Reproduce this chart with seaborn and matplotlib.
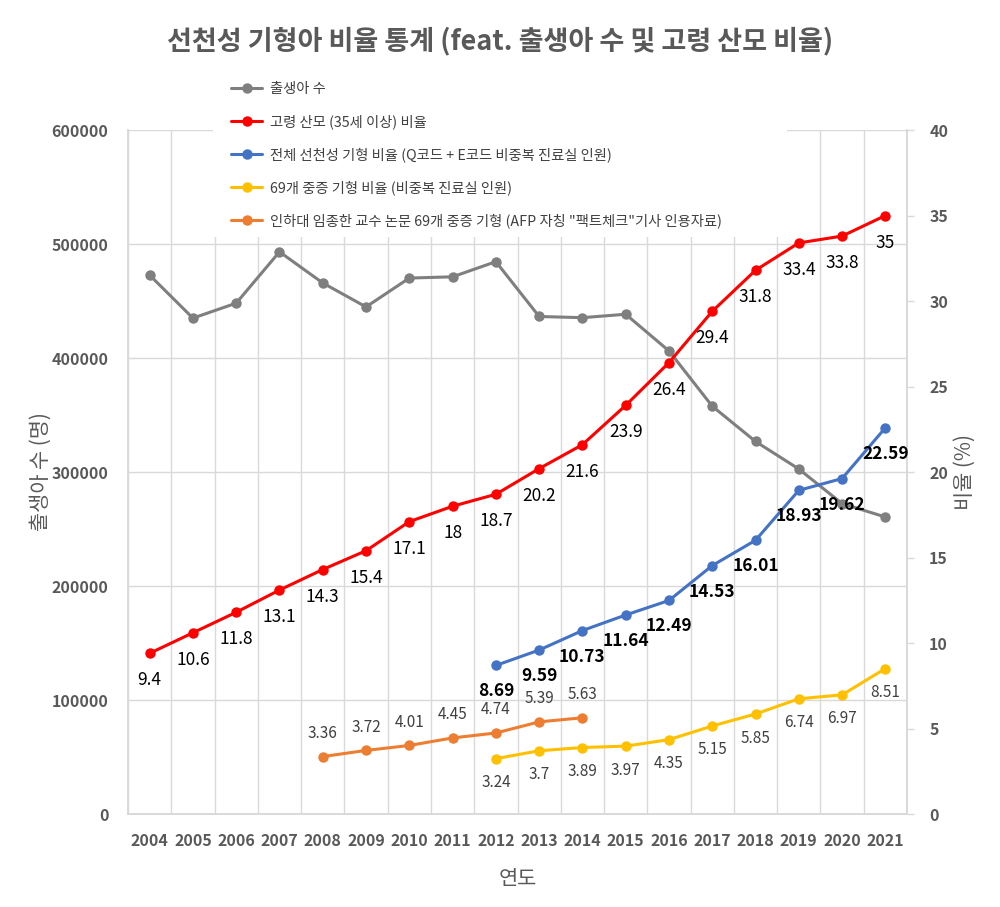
import numpy as np
import pandas as pd
import matplotlib
matplotlib.use("Agg")
import matplotlib.pyplot as plt
import seaborn as sns
from matplotlib.patches import Rectangle

# data
years = list(range(2004, 2022))
births = [472761, 435031, 448153, 493189, 465892, 444849, 470171, 471265, 484550,
          436455, 435435, 438420, 406243, 357771, 326822, 302676, 272337, 260562]
old_mother = [9.4, 10.6, 11.8, 13.1, 14.3, 15.4, 17.1, 18, 18.7, 20.2, 21.6, 23.9,
              26.4, 29.4, 31.8, 33.4, 33.8, 35]
total_defect = [None] * 8 + [8.69, 9.59, 10.73, 11.64, 12.49, 14.53, 16.01, 18.93, 19.62, 22.59]
severe_69 = [None] * 8 + [3.24, 3.7, 3.89, 3.97, 4.35, 5.15, 5.85, 6.74, 6.97, 8.51]
inha_69 = [None] * 4 + [3.36, 3.72, 4.01, 4.45, 4.74, 5.39, 5.63] + [None] * 7

labels = ["출생아 수",
          "고령 산모 (35세 이상) 비율",
          "전체 선천성 기형 비율 (Q코드 + E코드 비중복 진료실 인원)",
          "69개 중증 기형 비율 (비중복 진료실 인원)",
          "인하대 임종한 교수 논문 69개 중증 기형 (AFP 자칭 \"팩트체크\"기사 인용자료)"]

df = pd.DataFrame({"연도": years, "births": births, "old": old_mother,
                   "total": total_defect, "severe": severe_69, "inha": inha_69})
df = df.astype({"total": float, "severe": float, "inha": float})

sns.set_theme(style="white")
plt.rcParams["font.family"] = ["Noto Sans CJK KR", "DejaVu Sans"]

GRAY_TXT = "#595959"
GRID = "#d9d9d9"

fig = plt.figure(figsize=(10, 9.07), dpi=100)
ax = fig.add_axes([0.128, 0.1025, 0.779, 0.7541])
ax2 = ax.twinx()

lw, ms = 2.2, 7.5
sns.lineplot(data=df, x="연도", y="births", ax=ax, color="#7f7f7f", lw=lw,
             marker="o", markersize=ms, markeredgewidth=0, label=labels[0])
styles = [("old", "#ff0000", labels[1]), ("total", "#4472c4", labels[2]),
          ("severe", "#ffc000", labels[3]), ("inha", "#ed7d31", labels[4])]
for col, c, lab in styles:
    sns.lineplot(data=df, x="연도", y=col, ax=ax2, color=c, lw=lw,
                 marker="o", markersize=ms, markeredgewidth=0, label=lab)

# data labels
def put_labels(col, dy, color, size, weight="normal"):
    for yr, v in zip(df["연도"], df[col]):
        if pd.isna(v):
            continue
        ax2.annotate(f"{v:g}", (yr, v), xytext=(0, dy), textcoords="offset pixels",
                     ha="center", va="center", fontsize=size, color=color, fontweight=weight)

put_labels("old", -27, "#000000", 12.5)
put_labels("total", -26, "#000000", 12.5, "bold")
put_labels("severe", -24, "#404040", 11)
put_labels("inha", 23, "#404040", 11)

# axes
ax.set_xlim(2003.5, 2021.5)
ax.set_ylim(0, 600000)
ax2.set_ylim(0, 40)
ax.set_xticks(years)
ax.set_xticklabels([str(y) for y in years])
ax.set_xticks(np.arange(2003.5, 2022, 1), minor=True)
ax.set_yticks(np.arange(0, 600001, 100000))
ax2.set_yticks(np.arange(0, 41, 5))

ax.grid(axis="y", color=GRID, lw=1)
ax.grid(axis="x", which="minor", color=GRID, lw=1)
ax.set_axisbelow(True)

for a in (ax, ax2):
    a.spines["top"].set_visible(False)
    for s in ("left", "right", "bottom"):
        a.spines[s].set_color(GRID)
        a.spines[s].set_linewidth(1.2)

ax.tick_params(axis="x", which="both", length=0, pad=14, labelsize=11.5, labelcolor=GRAY_TXT)
ax.tick_params(axis="y", length=0, pad=14, labelsize=11.5, labelcolor=GRAY_TXT)
ax2.tick_params(axis="y", length=5, width=1, color=GRID, direction="out", pad=11,
                labelsize=11.5, labelcolor=GRAY_TXT)
for t in ax.get_xticklabels() + ax.get_yticklabels() + ax2.get_yticklabels():
    t.set_fontweight("bold")

ax.set_xlabel("연도", fontsize=15, color=GRAY_TXT, labelpad=13)
ax.set_ylabel("출생아 수 (명)", fontsize=15, color=GRAY_TXT, labelpad=0)
ax2.set_ylabel("비율 (%)", fontsize=15, color=GRAY_TXT, rotation=90, labelpad=4)

# legend sits on a white box that hides the grid behind it
ax2.add_patch(Rectangle((0.213, 1 - 237 / 907), 0.574, 167 / 907, transform=fig.transFigure,
                        facecolor="white", edgecolor="none", zorder=0.5, clip_on=False))
h1, l1 = ax.get_legend_handles_labels()
h2, l2 = ax2.get_legend_handles_labels()
ax.get_legend().remove()
ax2.get_legend().remove()
ax2.legend(h1 + h2, l1 + l2, loc="upper left", bbox_to_anchor=(0.231, 1 - 82 / 907),
           bbox_transform=fig.transFigure, frameon=False, fontsize=10.3, labelcolor="#404040",
           handlelength=2.2, handletextpad=0.5, labelspacing=1.27, borderpad=0, borderaxespad=0)

fig.text(0.5, 1 - 41 / 907, "선천성 기형아 비율 통계 (feat. 출생아 수 및 고령 산모 비율)",
         ha="center", va="center", fontsize=19.5, fontweight="bold", color=GRAY_TXT)

fig.savefig("out.png", dpi=100, facecolor="white")
